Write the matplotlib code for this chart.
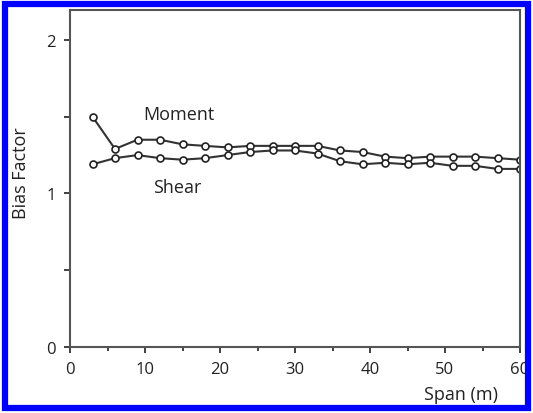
import matplotlib
matplotlib.use("Agg")
import matplotlib.pyplot as plt
from matplotlib.patches import Rectangle
from matplotlib.ticker import MultipleLocator

span = [3, 6, 9, 12, 15, 18, 21, 24, 27, 30, 33, 36, 39, 42, 45, 48, 51, 54, 57, 60]
moment = [1.50, 1.29, 1.35, 1.35, 1.32, 1.31, 1.30, 1.31, 1.31, 1.31, 1.31, 1.28, 1.27, 1.24, 1.23, 1.24, 1.24, 1.24, 1.23, 1.22]
shear = [1.19, 1.23, 1.25, 1.23, 1.22, 1.23, 1.25, 1.27, 1.28, 1.28, 1.26, 1.21, 1.19, 1.20, 1.19, 1.20, 1.18, 1.18, 1.16, 1.16]

plt.rcParams['font.family'] = ['Open Sans', 'DejaVu Sans']

fig = plt.figure(figsize=(5.33, 4.14), dpi=100)
ax = fig.add_axes([70/533, 1-348/414, (520-70)/533, (348-11)/414])

style = dict(color='#333333', lw=1.5, marker='o', ms=5, mfc='white', mec='#222222', mew=1.2)
ax.plot(span, moment, **style)
ax.plot(span, shear, **style)

ax.text(9.8, 1.52, 'Moment', fontsize=13, va='center', ha='left', color='#222222')
ax.text(11.1, 1.04, 'Shear', fontsize=13, va='center', ha='left', color='#222222')

ax.set_xlim(0, 60)
ax.set_ylim(0, 2.195)
ax.xaxis.set_major_locator(MultipleLocator(10))
ax.xaxis.set_minor_locator(MultipleLocator(5))
ax.yaxis.set_major_locator(MultipleLocator(1))
ax.yaxis.set_minor_locator(MultipleLocator(0.5))
ax.tick_params(which='both', direction='out', length=4, width=1.3, color='#333333', labelsize=12, labelcolor='#222222')
ax.tick_params(axis='y', which='minor', length=4)
ax.tick_params(axis='x', which='minor', length=3)
ax.tick_params(axis='x', pad=6)
ax.tick_params(axis='y', pad=6)
for s in ax.spines.values():
    s.set_color('#555555')
    s.set_linewidth(1.5)

fig.text(21/533, 1-173/414, 'Bias Factor', rotation=90, fontsize=13, va='center', ha='center', color='#222222')
fig.text(461/533, 1-395/414, 'Span (m)', fontsize=13, va='center', ha='center', color='#222222')

fig.patches.append(Rectangle((5/533, 5/414), 523/533, 404/414, transform=fig.transFigure,
                             fill=False, edgecolor='#0000ff', lw=4.5, zorder=10))

fig.savefig('out.png', dpi=100)
